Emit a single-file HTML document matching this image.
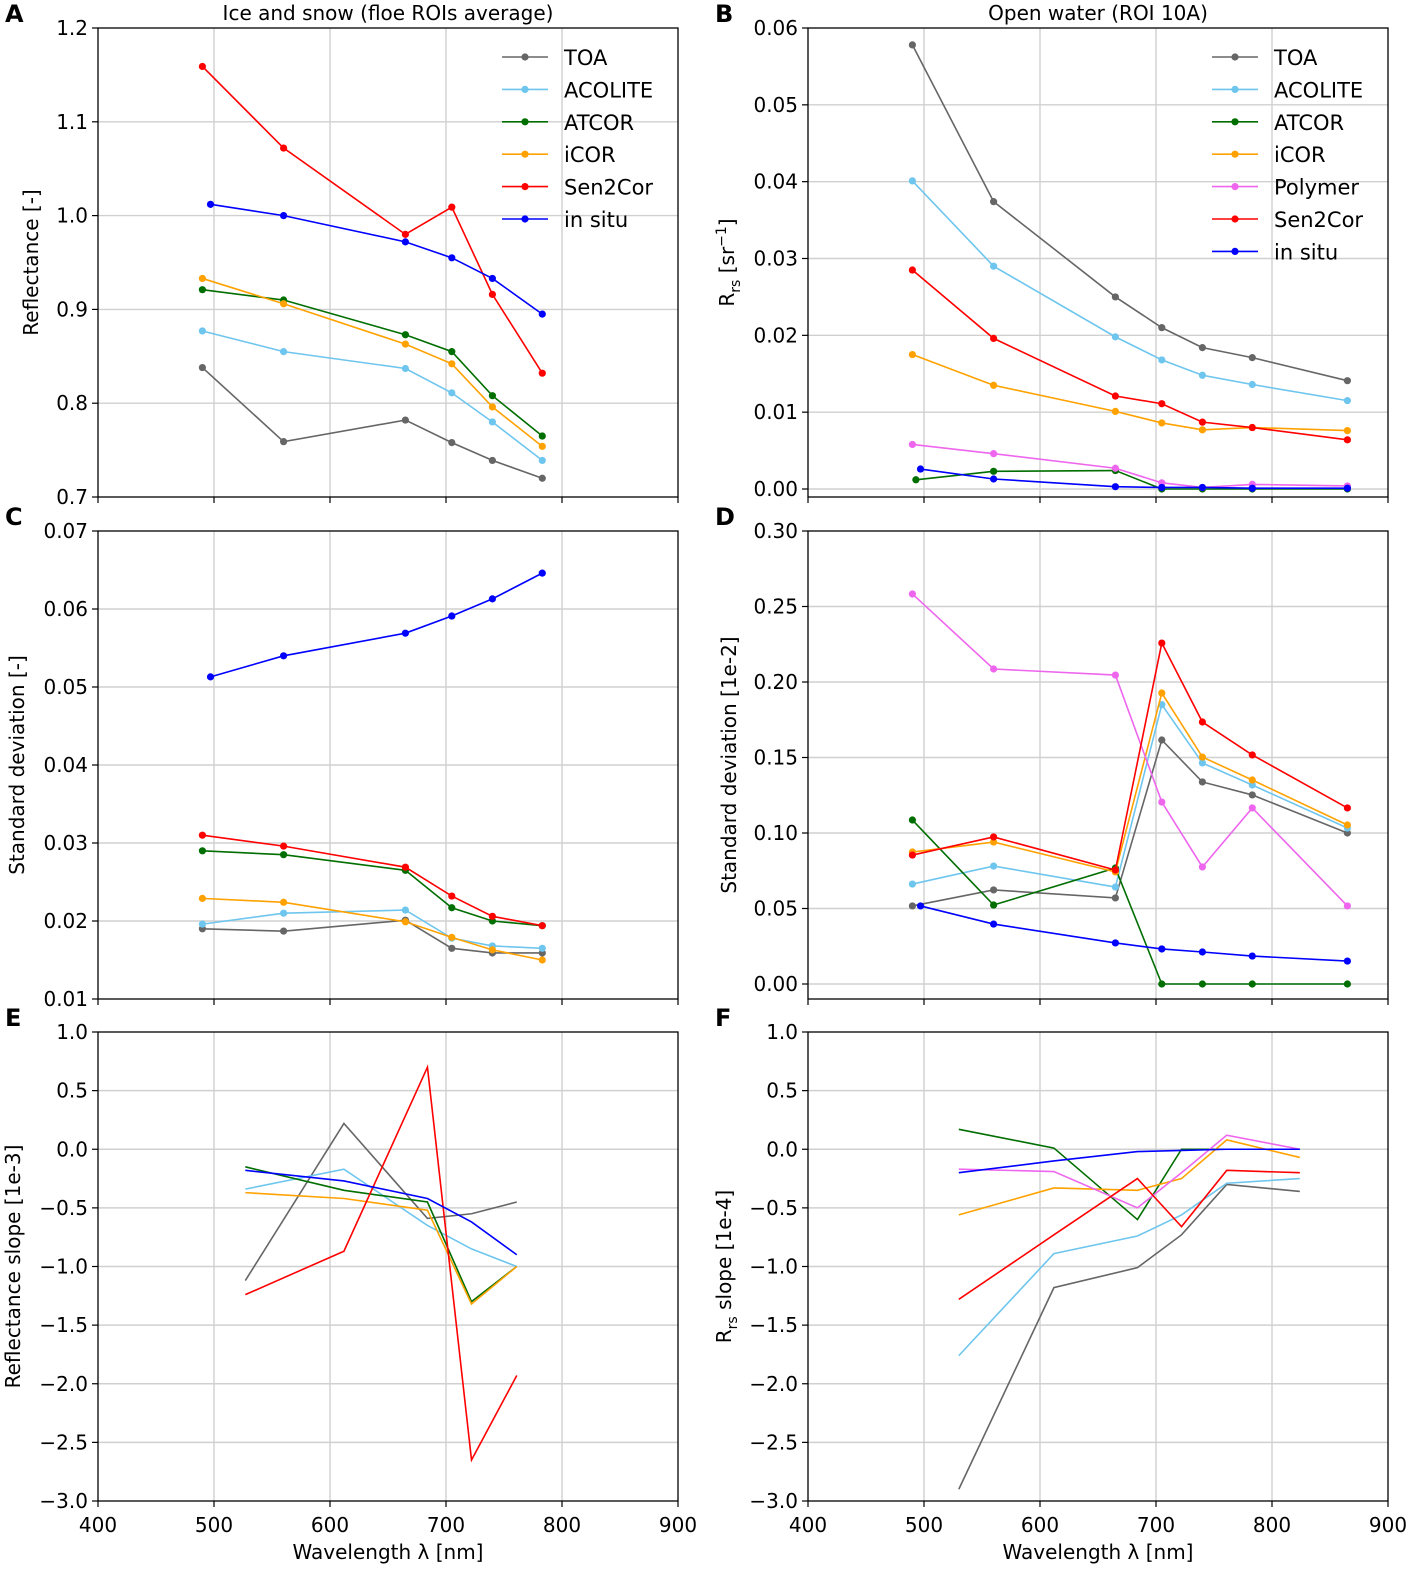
<!DOCTYPE html>
<html><head><meta charset="utf-8"><style>
body{margin:0;background:#fff}
svg{display:block;font-family:"DejaVu Sans","Liberation Sans",sans-serif}
</style></head><body>
<svg id="fig" width="1418" height="1575" viewBox="0 0 1418 1575" xmlns="http://www.w3.org/2000/svg"></svg>
<script>
const NS="http://www.w3.org/2000/svg";
const fig=document.getElementById('fig');
// ---- data ----
const wlS2=[490,560,665,705,740,783];
const wlS2b=[490,560,665,705,740,783,865];
const wlSitu=[497,560,665,705,740,783];
const wlSitub=[497,560,665,705,740,783,865];
const wlSlopeA=[527,612,684,722,761];
const wlSlopeB=[530,612,684,722,761,824];
const seriesNamesA=["TOA","ACOLITE","ATCOR","iCOR","Sen2Cor","in situ"];
const seriesNamesB=["TOA","ACOLITE","ATCOR","iCOR","Polymer","Sen2Cor","in situ"];
const colors={"TOA":"#666666","ACOLITE":"#6ec6ee","ATCOR":"#006e00","iCOR":"#ffa200","Polymer":"#ee66ee","Sen2Cor":"#ff0000","in situ":"#0000ff"};
const A_TOA=[0.838,0.759,0.782,0.758,0.739,0.720];
const A_ACOLITE=[0.877,0.855,0.837,0.811,0.780,0.739];
const A_ATCOR=[0.921,0.910,0.873,0.855,0.808,0.765];
const A_iCOR=[0.933,0.906,0.863,0.842,0.796,0.754];
const A_Sen2Cor=[1.159,1.072,0.980,1.009,0.916,0.832];
const A_insitu=[1.012,1.000,0.972,0.955,0.933,0.895];
const B_TOA=[0.0578,0.0374,0.0250,0.0210,0.0184,0.0171,0.0141];
const B_ACOLITE=[0.0401,0.0290,0.0198,0.0168,0.0148,0.0136,0.0115];
const B_ATCOR=[0.0012,0.0023,0.0024,0.0000,0.0000,0.0000,0.0000];
const B_iCOR=[0.0175,0.0135,0.0101,0.0086,0.0077,0.0080,0.0076];
const B_Polymer=[0.0058,0.0046,0.0027,0.0008,0.0002,0.0006,0.0004];
const B_Sen2Cor=[0.0285,0.0196,0.0121,0.0111,0.0087,0.0080,0.0064];
const B_insitu=[0.0026,0.0013,0.0003,0.0002,0.0002,0.0001,0.0001];
const C_TOA=[0.0190,0.0187,0.0201,0.0165,0.0159,0.0159];
const C_ACOLITE=[0.0196,0.0210,0.0214,0.0178,0.0168,0.0165];
const C_ATCOR=[0.0290,0.0285,0.0265,0.0217,0.0200,0.0194];
const C_iCOR=[0.0229,0.0224,0.0199,0.0179,0.0163,0.0150];
const C_Sen2Cor=[0.0310,0.0296,0.0269,0.0232,0.0206,0.0194];
const C_insitu=[0.0513,0.0540,0.0569,0.0591,0.0613,0.0646];
const D_TOA=[0.0517,0.0623,0.0570,0.1616,0.1338,0.1252,0.1000];
const D_ACOLITE=[0.0662,0.0781,0.0642,0.1850,0.1464,0.1318,0.1033];
const D_ATCOR=[0.1086,0.0523,0.0768,0,0,0,0];
const D_iCOR=[0.0874,0.0940,0.0742,0.1927,0.1503,0.1351,0.1053];
const D_Polymer=[0.2583,0.2086,0.2046,0.1205,0.0775,0.1166,0.0517];
const D_Sen2Cor=[0.0854,0.0974,0.0755,0.2258,0.1735,0.1517,0.1166];
const D_insitu=[0.0517,0.0397,0.0272,0.0232,0.0212,0.0185,0.0152];
const E_TOA=[-1.12,0.22,-0.59,-0.55,-0.45];
const E_ACOLITE=[-0.34,-0.17,-0.65,-0.85,-1.0];
const E_ATCOR=[-0.15,-0.35,-0.45,-1.30,-1.0];
const E_iCOR=[-0.37,-0.42,-0.52,-1.32,-1.0];
const E_Sen2Cor=[-1.24,-0.87,0.70,-2.65,-1.93];
const E_insitu=[-0.18,-0.27,-0.42,-0.62,-0.90];
const F_TOA=[-2.9,-1.18,-1.01,-0.73,-0.30,-0.36];
const F_ACOLITE=[-1.76,-0.89,-0.74,-0.56,-0.29,-0.25];
const F_ATCOR=[0.17,0.01,-0.60,0.0,0.0,0.0];
const F_iCOR=[-0.56,-0.33,-0.35,-0.25,0.08,-0.07];
const F_Polymer=[-0.17,-0.19,-0.50,-0.20,0.12,0.0];
const F_Sen2Cor=[-1.28,-0.73,-0.25,-0.66,-0.18,-0.20];
const F_insitu=[-0.20,-0.10,-0.02,-0.01,0.0,0.0];
const xTicks=[400,500,600,700,800,900];
const yTicksA=["0.7","0.8","0.9","1.0","1.1","1.2"];
const yTicksB=["0.00","0.01","0.02","0.03","0.04","0.05","0.06"];
const yTicksC=["0.01","0.02","0.03","0.04","0.05","0.06","0.07"];
const yTicksD=["0.00","0.05","0.10","0.15","0.20","0.25","0.30"];
const yTicksEF=["−3.0","−2.5","−2.0","−1.5","−1.0","−0.5","0.0","0.5","1.0"];

function el(tag,attrs,parent){const e=document.createElementNS(NS,tag);for(const k in attrs)e.setAttribute(k,attrs[k]);(parent||fig).appendChild(e);return e;}
function num(s){return parseFloat(s.replace('−','-'));}

function panel(cfg){
  const g=el('g',{});
  
  
  const L=cfg.x0,R=cfg.x0+580,T=cfg.top,B=cfg.bot;
  const xs=v=>L+(v-400)*1.16;
  const ys=v=>cfg.yA+(v-cfg.v0)*(cfg.yB-cfg.yA)/(cfg.v1-cfg.v0);
  xTicks.forEach(t=>{if(t>400&&t<900){const l=el('line',{x1:xs(t),x2:xs(t),y1:T,y2:B,stroke:'#d0d0d0','stroke-width':1.4},g);}});
  cfg.yt.forEach(t=>{const y=ys(num(t));if(y>T+1&&y<B-1){const l=el('line',{x1:L,x2:R,y1:y,y2:y,stroke:'#d0d0d0','stroke-width':1.4},g);}});
  cfg.series.forEach(s=>{
    const pts=s.vals.map((v,i)=>[xs(s.x[i]),ys(v)]);
    const pl=el('polyline',{points:pts.map(p=>p.join(',')).join(' '),fill:'none',stroke:colors[s.name],'stroke-width':1.6},g);
    
    
    if(cfg.markers)pts.forEach(p=>{const c=el('circle',{cx:p[0],cy:p[1],r:3.6,fill:colors[s.name]},g);});
  });
  const fr=el('rect',{x:L,y:T,width:580,height:B-T,fill:'none',stroke:'#000','stroke-width':1.3},g);
  
  cfg.yt.forEach(t=>{const y=ys(num(t));
    el('line',{x1:L-6,x2:L,y1:y,y2:y,stroke:'#000','stroke-width':1.2},g);
    const tx=el('text',{x:L-10,y:y+7,'text-anchor':'end','font-size':20},g);tx.textContent=t;
    });
  xTicks.forEach(t=>{el('line',{x1:xs(t),x2:xs(t),y1:B,y2:B+6,stroke:'#000','stroke-width':1.2},g);
    if(cfg.xlabels){const tx=el('text',{x:xs(t),y:B+31,'text-anchor':'middle','font-size':20},g);tx.textContent=t;}});
  if(cfg.xlabels){const tx=el('text',{x:(L+R)/2,y:B+58,'text-anchor':'middle','font-size':20},g);tx.textContent='Wavelength λ [nm]';}
  const yt=el('text',{transform:`translate(${cfg.ytx},${(T+B)/2}) rotate(-90)`,'text-anchor':'middle','font-size':20},g);
  yt.innerHTML=cfg.ytitle;
  const lt=el('text',{x:cfg.x0-93,y:T-6,'font-size':24,'font-weight':'bold'},g);lt.textContent=cfg.letter;
  
  if(cfg.title){const tt=el('text',{x:(L+R)/2,y:20,'text-anchor':'middle','font-size':20},g);tt.textContent=cfg.title;}
  if(cfg.legend){const lg=el('g',{},g);
    cfg.series.forEach((s,i)=>{const y=57+i*32.4;const lx=R-176;
      el('line',{x1:lx,x2:lx+46,y1:y,y2:y,stroke:colors[s.name],'stroke-width':1.6},lg);
      el('circle',{cx:lx+23,cy:y,r:3.6,fill:colors[s.name]},lg);
      const tx=el('text',{x:lx+62,y:y+8,'font-size':21},lg);tx.textContent=s.name;
      });}
}
function mk(names,arrs,xfor){return names.map((n,i)=>({name:n,vals:arrs[i],x:xfor(n)}));}
panel({letter:'A',title:'Ice and snow (floe ROIs average)',x0:98,top:28,bot:497,yA:497,yB:28,v0:0.7,v1:1.2,yt:yTicksA,markers:true,legend:true,ytx:38,ytitle:'Reflectance [-]',
  series:mk(seriesNamesA,[A_TOA,A_ACOLITE,A_ATCOR,A_iCOR,A_Sen2Cor,A_insitu],n=>n=='in situ'?wlSitu:wlS2)});
panel({letter:'B',title:'Open water (ROI 10A)',x0:808,top:28,bot:497,yA:489,yB:28,v0:0,v1:0.06,yt:yTicksB,markers:true,legend:true,ytx:734,
  ytitle:'R<tspan font-size="14" dy="6">rs</tspan><tspan dy="-6"> [sr</tspan><tspan font-size="14" dy="-8">−1</tspan><tspan dy="8">]</tspan>',
  series:mk(seriesNamesB,[B_TOA,B_ACOLITE,B_ATCOR,B_iCOR,B_Polymer,B_Sen2Cor,B_insitu],n=>n=='in situ'?wlSitub:(n=='ATCOR'?[493,560,665,705,740,783,865]:wlS2b))});
panel({letter:'C',x0:98,top:531,bot:999,yA:999,yB:531,v0:0.01,v1:0.07,yt:yTicksC,markers:true,ytx:24,ytitle:'Standard deviation [-]',
  series:mk(seriesNamesA,[C_TOA,C_ACOLITE,C_ATCOR,C_iCOR,C_Sen2Cor,C_insitu],n=>n=='in situ'?wlSitu:wlS2)});
panel({letter:'D',x0:808,top:531,bot:999,yA:984,yB:531,v0:0,v1:0.30,yt:yTicksD,markers:true,ytx:736,ytitle:'Standard deviation [1e-2]',
  series:mk(seriesNamesB,[D_TOA,D_ACOLITE,D_ATCOR,D_iCOR,D_Polymer,D_Sen2Cor,D_insitu],n=>n=='in situ'?wlSitub:wlS2b)});
panel({letter:'E',x0:98,top:1032,bot:1501,yA:1501,yB:1032,v0:-3,v1:1,yt:yTicksEF,markers:false,xlabels:true,ytx:20,ytitle:'Reflectance slope [1e-3]',
  series:mk(seriesNamesA,[E_TOA,E_ACOLITE,E_ATCOR,E_iCOR,E_Sen2Cor,E_insitu],n=>wlSlopeA)});
panel({letter:'F',x0:808,top:1032,bot:1501,yA:1501,yB:1032,v0:-3,v1:1,yt:yTicksEF,markers:false,xlabels:true,ytx:731,
  ytitle:'R<tspan font-size="14" dy="6">rs</tspan><tspan dy="-6">  slope [1e-4]</tspan>',
  series:mk(seriesNamesB,[F_TOA,F_ACOLITE,F_ATCOR,F_iCOR,F_Polymer,F_Sen2Cor,F_insitu],n=>wlSlopeB)});
</script>
</body></html>
